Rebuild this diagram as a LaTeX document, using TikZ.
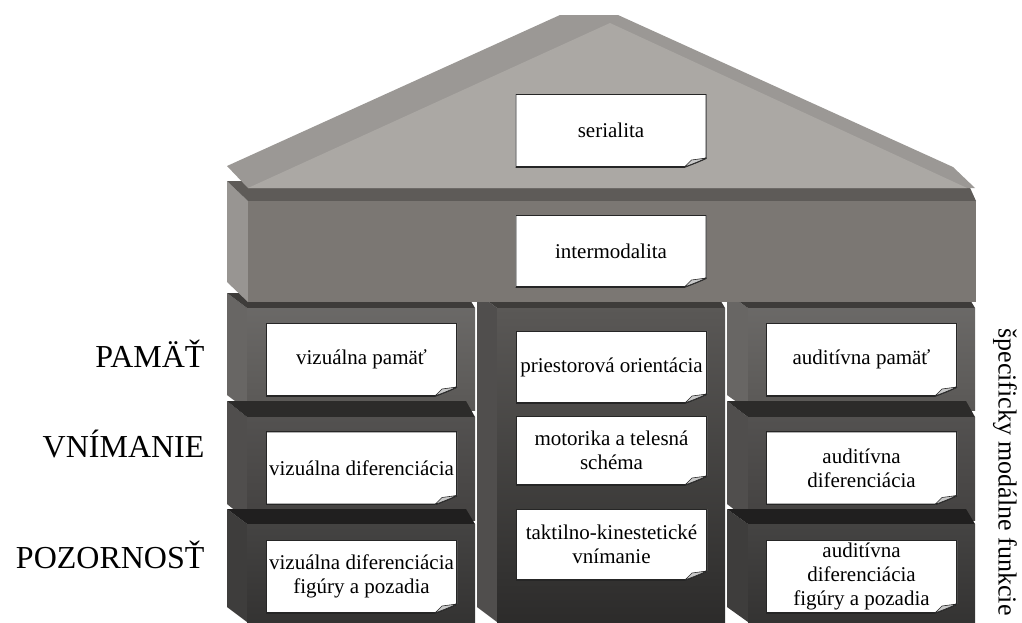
\documentclass[tikz,border=0pt]{standalone}
\usepackage{fontspec}
\setmainfont{Liberation Serif}
\definecolor{roofband}{RGB}{155,152,149}
\definecolor{roofface}{RGB}{171,168,164}
\definecolor{bandfront}{RGB}{123,119,115}
\definecolor{bandtop}{RGB}{94,91,88}
\definecolor{bandside}{RGB}{152,149,146}
\definecolor{rowAfront}{RGB}{90,88,86}
\definecolor{rowAtop}{RGB}{62,60,58}
\definecolor{rowAside}{RGB}{104,102,100}
\definecolor{rowBfront}{RGB}{68,66,65}
\definecolor{rowBtop}{RGB}{44,43,42}
\definecolor{rowBside}{RGB}{80,78,77}
\definecolor{rowCfront}{RGB}{52,51,50}
\definecolor{rowCtop}{RGB}{32,31,31}
\definecolor{rowCside}{RGB}{62,61,60}
\definecolor{foldgray}{RGB}{200,200,200}
\usetikzlibrary{arrows.meta}

% one block: back-left x, front-left x, right x, back top y, front top y, bottom y, front, top, side
\newcommand{\block}[9]{%
  \fill[#9] (#1,#4) -- (#2,#5) -- (#2,#6) -- (#1,#6-#5+#4) -- cycle;
  \fill[#8] (#1,#4) -- (#3-9,#4) -- (#3,#5) -- (#2,#5) -- cycle;
  \fill[#7] (#2,#5) rectangle (#3,#6);
}

\begin{document}
\begin{tikzpicture}[x=1pt, y=-1pt,
  boxfont/.style={font=\fontsize{21}{24}\selectfont},
  paper/.style={rectangle, minimum width=191pt, minimum height=#1,
    inner sep=1pt, align=center, boxfont,
    path picture={
      \coordinate (pnw) at (path picture bounding box.north west);
      \coordinate (pne) at (path picture bounding box.north east);
      \coordinate (pse) at (path picture bounding box.south east);
      \coordinate (psw) at (path picture bounding box.south west);
      \filldraw[fill=white, draw=black!85, line width=1.6pt]
        (pnw) -- (pne) -- ([yshift=9pt]pse)
        .. controls ([xshift=-9pt,yshift=5pt]pse) .. ([xshift=-22pt]pse)
        -- (psw) -- cycle;
      \filldraw[fill=foldgray, draw=black!85, line width=0.6pt]
        ([yshift=9pt]pse) -- ([xshift=-15pt,yshift=7pt]pse)
        -- ([xshift=-22pt]pse) .. controls ([xshift=-9pt,yshift=5pt]pse) .. cycle;
    }},
  paper/.default=73pt,
  level/.style={anchor=base east, font=\fontsize{32}{36}\selectfont}]
  \useasboundingbox (0,0) rectangle (1022,622);

  % Left column
  \block{227}{247}{475}{293}{308}{410}{top color=rowAfront!90!white, bottom color=rowAfront}{rowAtop}{rowAside}
  \block{227}{247}{475}{401}{417}{520}{top color=rowBfront!92!white, bottom color=rowBfront}{rowBtop}{rowBside}
  \block{227}{247}{475}{509}{524}{622}{top color=rowCfront!92!white, bottom color=rowCfront}{rowCtop}{rowCside}

  % Middle column
  \block{477}{497}{725}{293}{308}{622}{top color=rowAfront, bottom color=rowCfront!85!black}{rowAtop}{rowBside}

  % Right column
  \block{727}{748}{975}{293}{308}{410}{top color=rowAfront!90!white, bottom color=rowAfront}{rowAtop}{rowAside}
  \block{727}{748}{975}{401}{417}{520}{top color=rowBfront!92!white, bottom color=rowBfront}{rowBtop}{rowBside}
  \block{727}{748}{975}{509}{524}{622}{top color=rowCfront!92!white, bottom color=rowCfront}{rowCtop}{rowCside}

  % Intermodal band
  \block{227}{248}{976}{181}{201}{302}{bandfront}{bandtop}{bandside}

  % Roof
  \fill[roofband] (227,166) -- (560,15) -- (618,15) -- (953,167) -- (975,188)
    -- (248,188) -- cycle;
  \fill[roofface] (248,188) -- (610,23) -- (967,188) -- cycle;

  % Papers
  \node[paper] (serialita) at (611,130.5) {serialita};
  \node[paper=72pt] (intermod) at (611,251) {intermodalita};

  \node[paper] (vizpam) at (361.5,359.5) {vizuálna pamäť};
  \node[paper] (vizdif) at (361.5,468) {vizuálna diferenciácia};
  \node[paper] (vizfig) at (361.5,576.5) {vizuálna diferenciácia\\figúry a pozadia};

  \node[paper=72pt] (priest) at (611.5,367) {priestorová orientácia};
  \node[paper=69pt] (motor) at (611.5,450.5) {motorika a telesná\\schéma};
  \node[paper=71pt] (takt) at (611.5,544.5) {taktilno-kinestetické\\vnímanie};

  \node[paper] (audpam) at (861.5,359.5) {auditívna pamäť};
  \node[paper] (auddif) at (861.5,468) {auditívna\\diferenciácia};
  \node[paper] (audfig) at (861.5,576.5) {auditívna\\diferenciácia\\figúry a pozadia};

  % Levels
  \node[level] (pamat) at (208,367) {PAMÄŤ};
  \node[level] (vnimanie) at (208,457) {VNÍMANIE};
  \node[level] (pozornost) at (208,568) {POZORNOSŤ};

  \node[rotate=-90, font=\fontsize{26}{28}\selectfont] (specif) at (1005,472)
    {špecificky modálne funkcie};
\end{tikzpicture}
\end{document}
